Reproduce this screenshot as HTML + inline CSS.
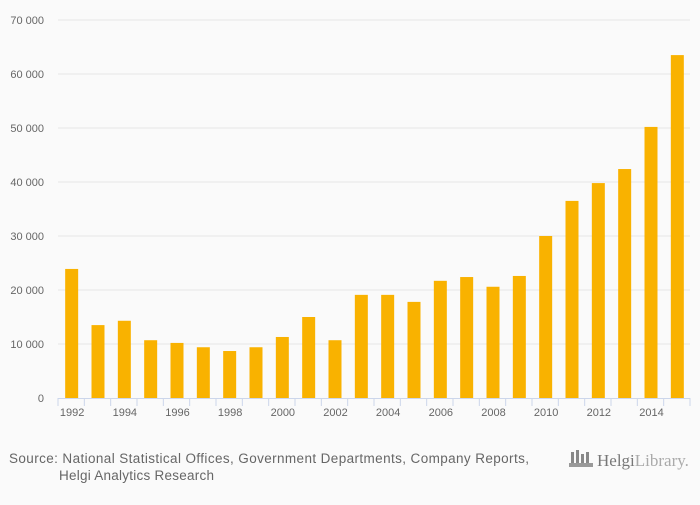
<!DOCTYPE html>
<html><head><meta charset="utf-8"><style>
body{margin:0;background:#fafafa;width:700px;height:500px;overflow:hidden;font-family:"Liberation Sans",sans-serif}
</style></head><body>
<svg width="700" height="500" xmlns="http://www.w3.org/2000/svg">
<rect width="700" height="500" fill="#fafafa"/>
<g id="grid"></g><g id="bars"></g><g id="axis"></g>
<text x="9" y="463" font-size="13.5" fill="#666" textLength="520" lengthAdjust="spacing">Source: National Statistical Offices, Government Departments, Company Reports,</text>
<text x="59" y="480" font-size="13.5" fill="#666" textLength="155" lengthAdjust="spacing">Helgi Analytics Research</text>
<g>
<rect x="571" y="452" width="3" height="14" fill="#888"/><rect x="576" y="450" width="3" height="16" fill="#888"/><rect x="581" y="454" width="3" height="12" fill="#888"/><rect x="586" y="452" width="3" height="14" fill="#888"/>
<rect x="569" y="463" width="24" height="4" fill="#999"/>
<text x="597" y="466" font-size="17" font-family="Liberation Serif,serif" fill="#777">Helgi<tspan fill="#aaa">Library.</tspan></text>
</g>
</svg>
<script>
const years=[1992,1993,1994,1995,1996,1997,1998,1999,2000,2001,2002,2003,2004,2005,2006,2007,2008,2009,2010,2011,2012,2013,2014,2015];
const values=[23900,13500,14300,10700,10200,9400,8700,9400,11300,15000,10700,19100,19100,17800,21700,22400,20600,22600,30000,36500,39800,42400,50200,63500];
const yTicks=[0,10000,20000,30000,40000,50000,60000,70000];
const X0=58,X1=690,Y0=398,Y1=20,YMAX=70000;
const ns="http://www.w3.org/2000/svg";
const bw=(X1-X0)/years.length;
const y=v=>Y0-(v/YMAX)*(Y0-Y1);
const x=i=>X0+i*bw;
function mk(t,a,p){const e=document.createElementNS(ns,t);for(const k in a)e.setAttribute(k,a[k]);p.appendChild(e);return e;}
const g=document.getElementById('grid'),b=document.getElementById('bars'),ax=document.getElementById('axis');
yTicks.forEach(v=>{
 if(v>0){const l=mk('line',{x1:X0,x2:X1,y1:y(v),y2:y(v),stroke:'#e6e6e6'},g);
 
 }
 const t=mk('text',{x:44,y:y(v)+4,'font-size':11,fill:'#666','text-anchor':'end'},g);
 t.textContent=v===0?'0':String(v).replace(/(\d+)(\d{3})$/,'$1 $2');
 
 
});
values.forEach((v,i)=>{
 const r=mk('rect',{x:x(i)+bw/2-6,y:y(v),width:13,height:Y0-y(v),fill:'#f9b200'},b);
 
 
});
const al=mk('line',{x1:X0,x2:X1,y1:Y0+0.5,y2:Y0+0.5,stroke:'#ccd6eb'},ax);


for(let i=0;i<=years.length;i++){mk('line',{x1:x(i),x2:x(i),y1:Y0,y2:Y0+8,stroke:'#ccd6eb'},ax);}
years.forEach((yr,i)=>{if(yr%2===0){
 const t=mk('text',{x:x(i)+bw/2+1,y:Y0+18,'font-size':11,fill:'#666','text-anchor':'middle'},ax);
 t.textContent=yr;
 
 }});
</script>
</body></html>
